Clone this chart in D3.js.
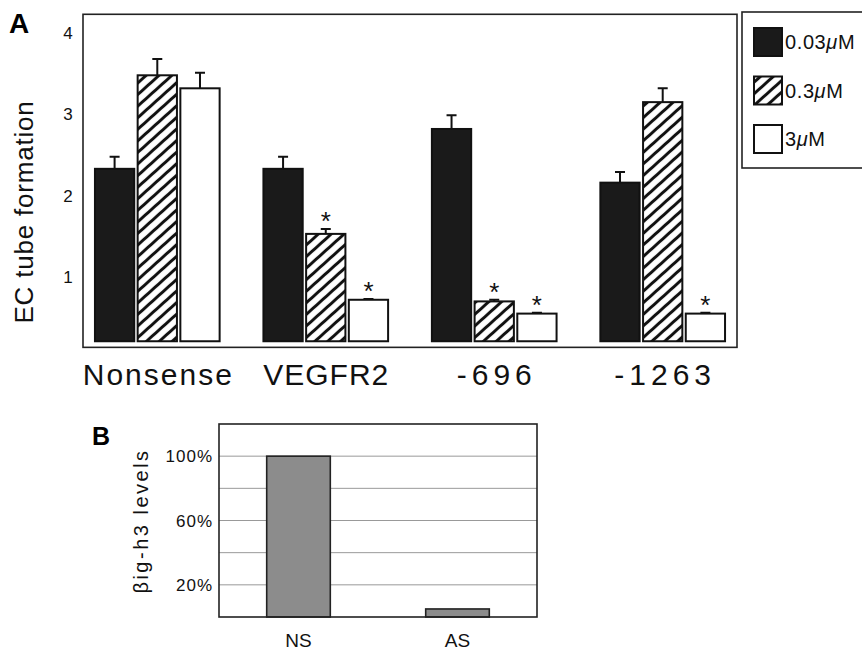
<!DOCTYPE html>
<html>
<head>
<meta charset="utf-8">
<script src="https://cdn.jsdelivr.net/npm/d3@7"></script>
<style>
  body { margin: 0; background: #fff; }
  svg { display: block; font-family: "Liberation Sans", Arial, sans-serif; }
</style>
</head>
<body>
<div id="chart"></div>
<script>
// Panel A data
var groups = ["Nonsense", "VEGFR2", "-696", "-1263"];
var doses = ["0.03\u03bcM", "0.3\u03bcM", "3\u03bcM"];
var meanLow  = [2.33, 2.33, 2.82, 2.16];
var meanMid  = [3.48, 1.53, 0.70, 3.15];
var meanHigh = [3.32, 0.72, 0.55, 0.55];
var errLow  = [0.15, 0.15, 0.17, 0.13];
var errMid  = [0.20, 0.06, 0.02, 0.17];
var errHigh = [0.19, 0.01, 0.01, 0.01];
var starMid  = [false, true, true, false];
var starHigh = [false, true, true, true];
var yTicksA = [1, 2, 3, 4];

// Panel B data
var bCats = ["NS", "AS"];
var bValues = [100, 5];
var bTickLabels = [20, 60, 100];
var bGrid = [20, 40, 60, 80, 100];

var svg = d3.select("#chart")
  .append("svg")
  .attr("width", 862)
  .attr("height", 651);

// hatch pattern for the 0.3uM bars
var defs = svg.append("defs");
defs.append("pattern")
  .attr("id", "hatch")
  .attr("patternUnits", "userSpaceOnUse")
  .attr("width", 20)
  .attr("height", 8.6)
  .attr("patternTransform", "rotate(-42)")
  .append("line")
  .attr("x1", 0).attr("x2", 20)
  .attr("y1", 4.3).attr("y2", 4.3)
  .attr("stroke", "#111")
  .attr("stroke-width", 3);

var fills = ["#1a1a1a", "url(#hatch)", "#fff"];

// ---------- Panel A ----------
var aLeft = 83, aRight = 737;
var y = d3.scaleLinear()
  .domain([1, 4])
  .range([277, 33]);
var frameMin = 0.135, frameMax = 4.23, barBase = 0.21;

var x = d3.scaleBand()
  .domain(groups)
  .range([aLeft, aRight])
  .paddingInner(0.26)
  .paddingOuter(0.071);

var xSub = d3.scaleBand()
  .domain(doses)
  .range([0, x.bandwidth()])
  .paddingInner(0.08);

// frame
var gA = svg.append("g");
gA.append("rect")
  .attr("x", aLeft)
  .attr("y", y(frameMax))
  .attr("width", aRight - aLeft)
  .attr("height", y(frameMin) - y(frameMax))
  .attr("fill", "none")
  .attr("stroke", "#222")
  .attr("stroke-width", 1.6);

// y tick labels (no tick marks)
gA.selectAll(".ytick")
  .data(yTicksA)
  .enter().append("text")
  .attr("x", 68)
  .attr("y", function(d) { return y(d); })
  .attr("dy", "0.36em")
  .attr("text-anchor", "middle")
  .attr("font-size", 17)
  .attr("fill", "#111")
  .text(function(d) { return d; });

gA.append("text")
  .attr("transform", "translate(33,212) rotate(-90)")
  .attr("text-anchor", "middle")
  .attr("font-size", 26)
  .attr("letter-spacing", 0.8)
  .attr("fill", "#111")
  .text("EC tube formation");

gA.append("text")
  .attr("x", 9)
  .attr("y", 33)
  .attr("font-size", 28)
  .attr("font-weight", "bold")
  .text("A");

// bars
var rows = groups.map(function(g, i) {
  return [
    { key: doses[0], mean: meanLow[i], err: errLow[i], star: false },
    { key: doses[1], mean: meanMid[i], err: errMid[i], star: starMid[i] },
    { key: doses[2], mean: meanHigh[i], err: errHigh[i], star: starHigh[i] }
  ];
});

var grp = gA.selectAll(".grp")
  .data(rows)
  .enter().append("g")
  .attr("transform", function(d, i) {
    return "translate(" + x(groups[i]) + ",0)";
  });

// error bars (upper only)
grp.selectAll(".err")
  .data(function(d) { return d; })
  .enter().append("path")
  .attr("d", function(d) {
    var cx = xSub(d.key) + xSub.bandwidth() / 2;
    var t = y(d.mean + d.err);
    return "M" + cx + "," + y(d.mean) + "V" + t + "M" + (cx - 5) + "," + t + "H" + (cx + 5);
  })
  .attr("stroke", "#111")
  .attr("stroke-width", 2)
  .attr("fill", "none");

grp.selectAll("rect")
  .data(function(d) { return d; })
  .enter().append("rect")
  .attr("x", function(d) { return xSub(d.key); })
  .attr("y", function(d) { return y(d.mean); })
  .attr("width", xSub.bandwidth())
  .attr("height", function(d) { return y(barBase) - y(d.mean); })
  .attr("fill", function(d, i) { return fills[i]; })
  .attr("stroke", "#111")
  .attr("stroke-width", 2);

// significance stars sit a little above the error cap
grp.selectAll(".star")
  .data(function(d) { return d.filter(function(e) { return e.star; }); })
  .enter().append("text")
  .attr("x", function(d) { return xSub(d.key) + xSub.bandwidth() / 2; })
  .attr("y", function(d) { return y(d.mean + d.err) + 1; })
  .attr("text-anchor", "middle")
  .attr("font-size", 26)
  .attr("fill", "#111")
  .text("*");

// category labels
gA.selectAll(".cat")
  .data(groups)
  .enter().append("text")
  .attr("x", function(d) { return x(d) + x.bandwidth() / 2; })
  .attr("y", 385)
  .attr("text-anchor", "middle")
  .attr("font-size", 30)
  .attr("letter-spacing", function(d) { return d.charAt(0) === "-" ? 5 : (d === "Nonsense" ? 2 : 1); })
  .attr("dx", function(d) { return d.charAt(0) === "-" ? 2.5 : (d === "Nonsense" ? 1 : 0.5); })
  .attr("fill", "#111")
  .text(function(d) { return d; });

// legend
var leg = svg.append("g");
leg.append("rect")
  .attr("x", 742).attr("y", 12)
  .attr("width", 140).attr("height", 156)
  .attr("fill", "#fff")
  .attr("stroke", "#222")
  .attr("stroke-width", 1.6);

var legItems = leg.selectAll(".li")
  .data(doses)
  .enter().append("g")
  .attr("transform", function(d, i) { return "translate(754," + (28 + i * 48.5) + ")"; });

legItems.append("rect")
  .attr("width", 28).attr("height", 28)
  .attr("fill", function(d, i) { return fills[i]; })
  .attr("stroke", "#111")
  .attr("stroke-width", 2);

var lt = legItems.append("text")
  .attr("x", 31)
  .attr("y", 21)
  .attr("font-size", 20)
  .attr("letter-spacing", 0.6)
  .attr("fill", "#111");
lt.append("tspan").text(function(d) { return d.replace("\u03bcM", ""); });
lt.append("tspan").attr("font-style", "italic").text("\u03bc");
lt.append("tspan").text("M");

// ---------- Panel B ----------
var bLeft = 219, bRight = 537;
var yB = d3.scaleLinear()
  .domain([0, 120])
  .range([617, 424]);

var xB = d3.scaleBand()
  .domain(bCats)
  .range([bLeft, bRight])
  .paddingInner(0.6)
  .paddingOuter(0.3);

var gB = svg.append("g");

gB.selectAll(".grid")
  .data(bGrid)
  .enter().append("line")
  .attr("x1", bLeft).attr("x2", bRight)
  .attr("y1", function(d) { return yB(d); })
  .attr("y2", function(d) { return yB(d); })
  .attr("stroke", "#999")
  .attr("stroke-width", 1);

gB.selectAll(".bar")
  .data(bValues)
  .enter().append("rect")
  .attr("x", function(d, i) { return xB(bCats[i]); })
  .attr("y", function(d) { return yB(d); })
  .attr("width", xB.bandwidth())
  .attr("height", function(d) { return yB(0) - yB(d); })
  .attr("fill", "#8c8c8c")
  .attr("stroke", "#222")
  .attr("stroke-width", 1.6);

gB.append("rect")
  .attr("x", bLeft)
  .attr("y", yB(120))
  .attr("width", bRight - bLeft)
  .attr("height", yB(0) - yB(120))
  .attr("fill", "none")
  .attr("stroke", "#222")
  .attr("stroke-width", 1.6);

gB.selectAll(".ytick")
  .data(bTickLabels)
  .enter().append("text")
  .attr("x", 213)
  .attr("y", function(d) { return yB(d); })
  .attr("dy", "0.36em")
  .attr("text-anchor", "end")
  .attr("font-size", 17)
  .attr("letter-spacing", 1)
  .attr("fill", "#111")
  .text(function(d) { return d + "%"; });

gB.append("text")
  .attr("transform", "translate(148,521) rotate(-90)")
  .attr("text-anchor", "middle")
  .attr("font-size", 20)
  .attr("letter-spacing", 2.5)
  .attr("fill", "#111")
  .text("\u03b2ig-h3 levels");

gB.selectAll(".cat")
  .data(bCats)
  .enter().append("text")
  .attr("x", function(d) { return xB(d) + xB.bandwidth() / 2; })
  .attr("y", 647)
  .attr("text-anchor", "middle")
  .attr("font-size", 19)
  .attr("fill", "#111")
  .text(function(d) { return d; });

gB.append("text")
  .attr("x", 92)
  .attr("y", 445)
  .attr("font-size", 25)
  .attr("font-weight", "bold")
  .text("B");
</script>
</body>
</html>
